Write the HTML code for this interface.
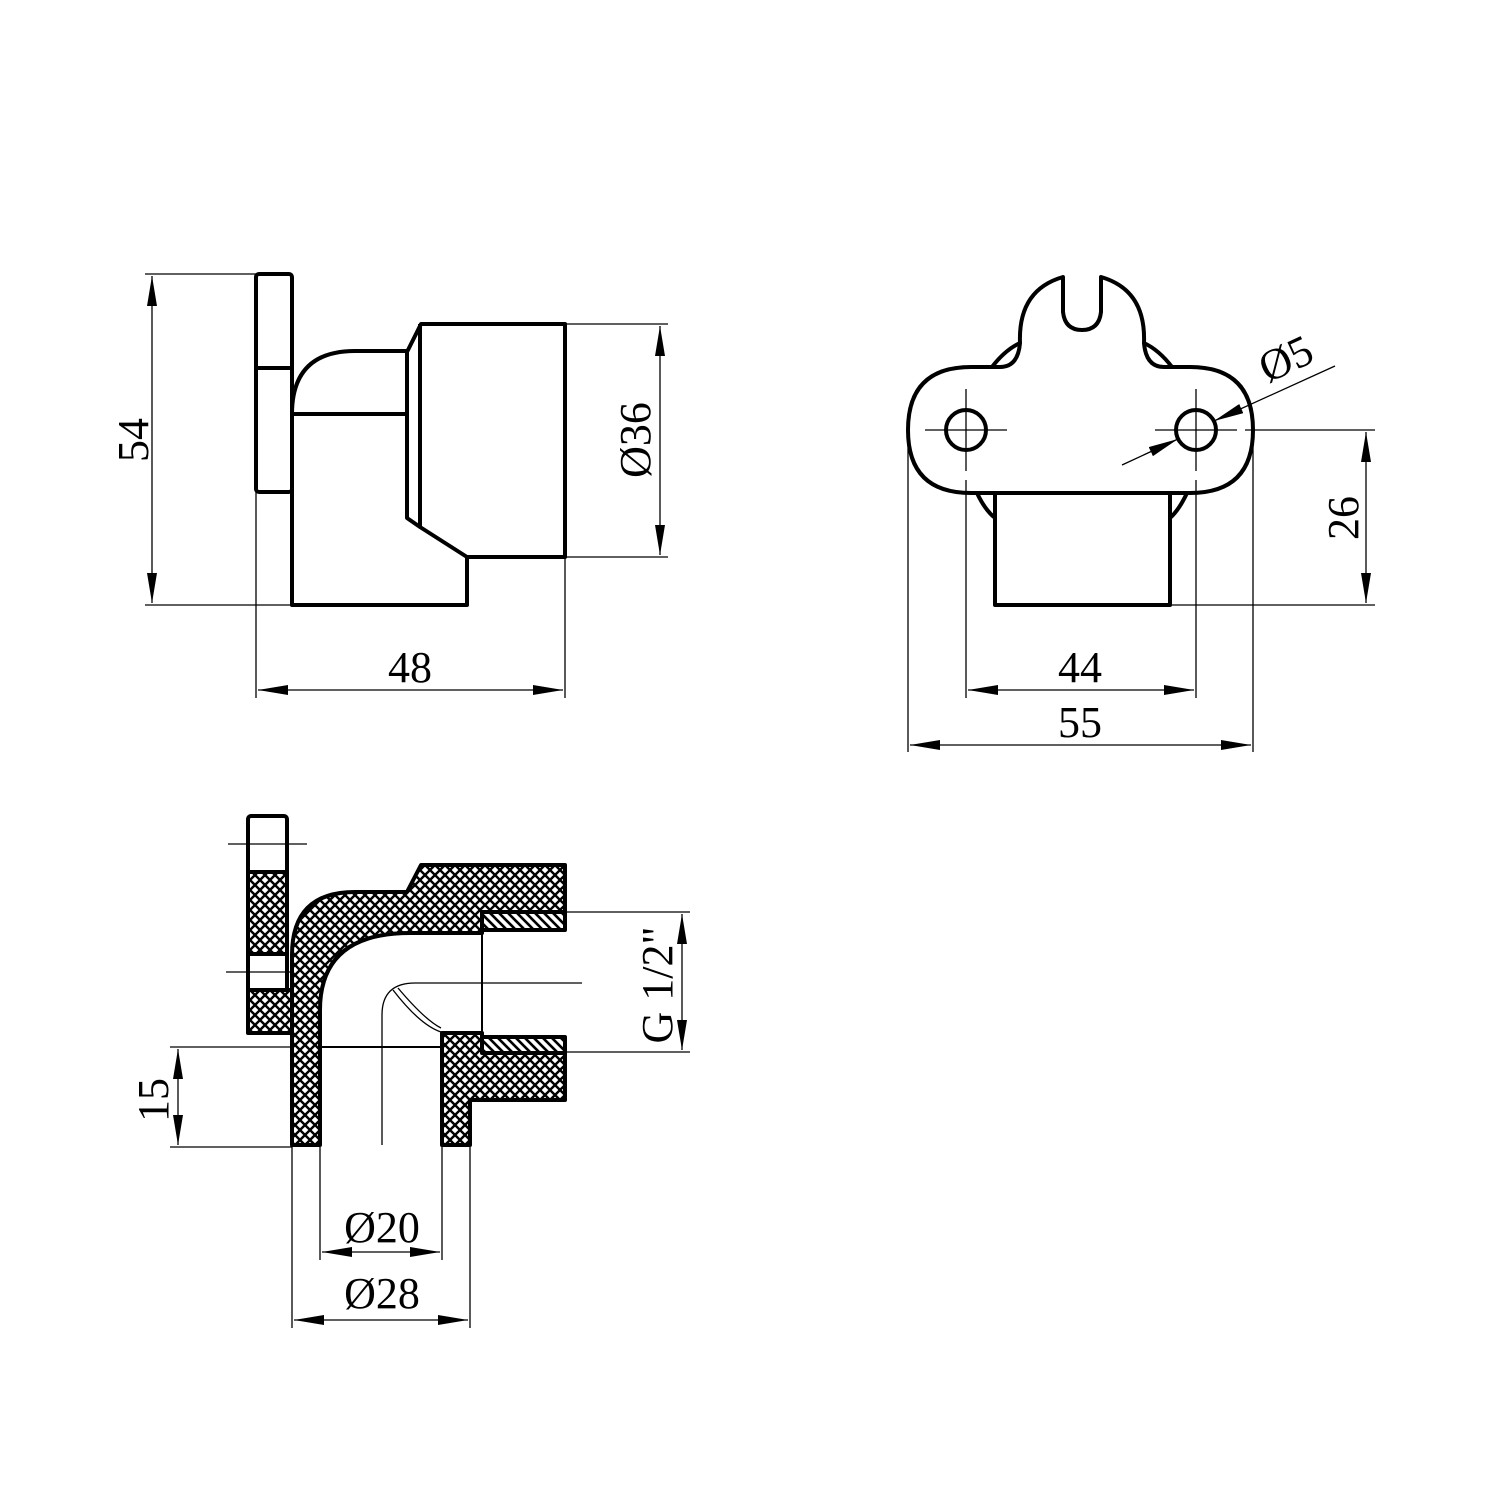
<!DOCTYPE html>
<html><head><meta charset="utf-8"><style>
html,body{margin:0;padding:0;background:#fff;width:1500px;height:1500px;overflow:hidden}
svg{display:block}
text{font-family:"Liberation Serif",serif;font-size:44px;fill:#000}
</style></head><body>
<svg width="1500" height="1500" viewBox="0 0 1500 1500" xmlns="http://www.w3.org/2000/svg">
<defs>
<pattern id="h" width="10" height="10" patternUnits="userSpaceOnUse">
<rect width="10" height="10" fill="#fff"/>
<path d="M0 0L10 10M10 0L0 10M-3 7L3 13M7 -3L13 3M-3 3L3 -3M7 13L13 7" stroke="#000" stroke-width="2.4"/>
</pattern>
<pattern id="t" width="9" height="9" patternUnits="userSpaceOnUse">
<rect width="9" height="9" fill="#fff"/>
<path d="M0 0L9 9M-3 6L3 12M6 -3L12 3" stroke="#000" stroke-width="2.6"/>
</pattern>
<marker id="a" viewBox="0 0 30 10" refX="30" refY="5" markerWidth="30" markerHeight="10" markerUnits="userSpaceOnUse" orient="auto-start-reverse">
<path d="M0 0L30 5L0 10Z" fill="#000"/></marker>
</defs>

<g fill="none" stroke="#000" stroke-width="4" stroke-linejoin="round">
<rect x="256" y="274" width="36" height="218" rx="3"/>
<line x1="256" y1="368" x2="292" y2="368"/>
<path d="M292 414 L292 605 L467 605 L467 557 L565 557 L565 324 L421 324 L407 352 L407 518 L420 527 L467 557"/>
<line x1="420" y1="324" x2="420" y2="527"/>
<path d="M292 414 Q292 351 355 351 L407 351"/>
<line x1="292" y1="414" x2="407" y2="414"/>
</g>
<g stroke="#000" stroke-width="1.3" fill="none">
<line x1="145" y1="274" x2="292" y2="274"/>
<line x1="145" y1="605" x2="292" y2="605"/>
<line x1="152" y1="276" x2="152" y2="603" marker-start="url(#a)" marker-end="url(#a)"/>
<line x1="565" y1="324" x2="668" y2="324"/>
<line x1="565" y1="557" x2="668" y2="557"/>
<line x1="660" y1="326" x2="660" y2="555" marker-start="url(#a)" marker-end="url(#a)"/>
<line x1="256" y1="492" x2="256" y2="698"/>
<line x1="565" y1="557" x2="565" y2="698"/>
<line x1="258" y1="690" x2="563" y2="690" marker-start="url(#a)" marker-end="url(#a)"/>
</g>
<text x="148" y="440" text-anchor="middle" transform="rotate(-90 148 440)">54</text>
<text x="650" y="440" text-anchor="middle" transform="rotate(-90 650 440)">Ø36</text>
<text x="410" y="682" text-anchor="middle">48</text>

<g fill="none" stroke="#000" stroke-width="4" stroke-linejoin="round">
<path d="M992 367 Q1005 350 1020 343"/>
<path d="M1172 367 Q1159 350 1144 343"/>
<path d="M977 493 Q985 510 995 518"/>
<path d="M1187 493 Q1179 510 1170 518"/>
<path d="M1000 367 Q1018 367 1020 343 Q1018 290 1063 277 L1063 312 Q1065 330 1082 330 Q1099 330 1101 312 L1101 277 Q1146 290 1144 343 Q1146 367 1164 367 L1190 367 Q1253 367 1253 430 Q1253 493 1190 493 L971 493 Q908 493 908 430 Q908 367 971 367 Z"/>
<circle cx="966" cy="430" r="20"/>
<circle cx="1196" cy="430" r="20"/>
<path d="M995 493 L995 605 L1170 605 L1170 493"/>
</g>
<g stroke="#000" stroke-width="1.3" fill="none">
<line x1="925" y1="430" x2="1007" y2="430"/>
<line x1="966" y1="389" x2="966" y2="471"/>
<line x1="1155" y1="430" x2="1237" y2="430"/>
<line x1="1196" y1="389" x2="1196" y2="471"/>
<line x1="966" y1="480" x2="966" y2="698"/>
<line x1="1196" y1="480" x2="1196" y2="698"/>
<line x1="908" y1="440" x2="908" y2="752"/>
<line x1="1253" y1="440" x2="1253" y2="752"/>
<line x1="968" y1="690" x2="1194" y2="690" marker-start="url(#a)" marker-end="url(#a)"/>
<line x1="910" y1="745" x2="1251" y2="745" marker-start="url(#a)" marker-end="url(#a)"/>
<line x1="1245" y1="430" x2="1375" y2="430"/>
<line x1="1170" y1="605" x2="1375" y2="605"/>
<line x1="1366" y1="432" x2="1366" y2="603" marker-start="url(#a)" marker-end="url(#a)"/>
<line x1="1122" y1="465" x2="1178" y2="439" marker-end="url(#a)"/>
<line x1="1335" y1="366" x2="1214" y2="421" marker-end="url(#a)"/>
</g>
<text x="1358" y="518" text-anchor="middle" transform="rotate(-90 1358 518)">26</text>
<text x="1080" y="682" text-anchor="middle">44</text>
<text x="1080" y="737" text-anchor="middle">55</text>
<text x="1292" y="372" text-anchor="middle" transform="rotate(-25 1292 372)">Ø5</text>

<g stroke="#000" stroke-width="4" stroke-linejoin="round">
<rect x="248" y="816" width="39" height="217" rx="3" fill="#fff"/>
<rect x="248" y="872" width="39" height="82" fill="url(#h)"/>
<rect x="248" y="990" width="44" height="43" fill="url(#h)"/>
<path fill="url(#h)" d="M292 1145 L320 1145 L320 1047 L320 1010 Q320 933 410 933 L482 933 L482 928 L565 928 L565 865 L421 865 L407 892 L355 892 Q292 892 292 955 Z"/>
<path fill="url(#h)" d="M442 1145 L470 1145 L470 1100 L565 1100 L565 1040 L482 1040 L482 1033 L442 1033 Z"/>
<rect x="482" y="912" width="83" height="18" fill="url(#t)"/>
<rect x="482" y="1037" width="83" height="16" fill="url(#t)"/>
</g>
<g stroke="#000" stroke-width="1.3" fill="none">
<line x1="228" y1="844" x2="307" y2="844"/>
<line x1="226" y1="972" x2="292" y2="972"/>
<line x1="320" y1="1047" x2="442" y2="1047" stroke-width="2"/>
<line x1="482" y1="933" x2="482" y2="1037" stroke-width="2"/>
<path d="M382 1145 L382 1015 Q382 983 415 983 L582 983"/>
<path d="M393 990 Q420 1025 441 1032"/>
<path d="M398 988 Q425 1020 441 1028"/>
<line x1="565" y1="912" x2="690" y2="912"/>
<line x1="565" y1="1052" x2="690" y2="1052"/>
<line x1="682" y1="914" x2="682" y2="1050" marker-start="url(#a)" marker-end="url(#a)"/>
<line x1="170" y1="1047" x2="292" y2="1047"/>
<line x1="170" y1="1147" x2="292" y2="1147"/>
<line x1="178" y1="1049" x2="178" y2="1145" marker-start="url(#a)" marker-end="url(#a)"/>
<line x1="320" y1="1147" x2="320" y2="1260"/>
<line x1="442" y1="1147" x2="442" y2="1260"/>
<line x1="292" y1="1147" x2="292" y2="1328"/>
<line x1="470" y1="1147" x2="470" y2="1328"/>
<line x1="322" y1="1252" x2="440" y2="1252" marker-start="url(#a)" marker-end="url(#a)"/>
<line x1="294" y1="1320" x2="468" y2="1320" marker-start="url(#a)" marker-end="url(#a)"/>
</g>
<text x="672" y="985" text-anchor="middle" transform="rotate(-90 672 985)">G 1/2"</text>
<text x="168" y="1100" text-anchor="middle" transform="rotate(-90 168 1100)">15</text>
<text x="382" y="1242" text-anchor="middle">Ø20</text>
<text x="382" y="1308" text-anchor="middle">Ø28</text>
</svg>
</body></html>
